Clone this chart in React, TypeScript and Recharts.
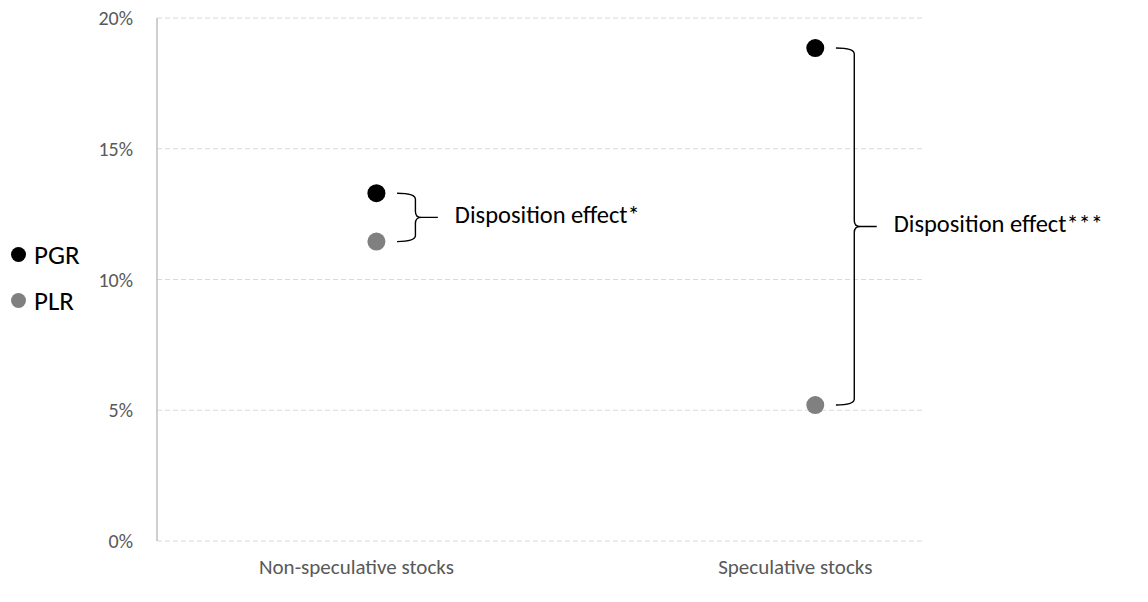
import React from "react";
import {
  ScatterChart,
  Scatter,
  XAxis,
  YAxis,
  CartesianGrid,
  ReferenceArea,
} from "recharts";

const categories = ["Non-speculative stocks", "Speculative stocks"];
const categoryX = [1, 3];
const pgrValues = [13.3, 18.85];
const plrValues = [11.45, 5.2];
const effectLabels = ["Disposition effect*", "Disposition effect***"];
const yTicks = [0, 5, 10, 15, 20];

const FONT = "Carlito, Lato, 'Open Sans', sans-serif";
const AXIS_TEXT = "#595959";
const PGR_COLOR = "#000000";
const PLR_COLOR = "#808080";

const series = [
  { name: "PGR", color: PGR_COLOR, values: pgrValues },
  { name: "PLR", color: PLR_COLOR, values: plrValues },
];

const dotShape = (color: string) => (props: any) =>
  <circle cx={props.cx} cy={props.cy} r={9} fill={color} />;

function CategoryTick({ x, y, payload }: any) {
  const i = categoryX.indexOf(payload.value);
  return (
    <text
      x={x - 20}
      y={y}
      dy={26}
      textAnchor="middle"
      dominantBaseline="middle"
      fill={AXIS_TEXT}
      fontSize={21}
      fontFamily={FONT}
    >
      {categories[i]}
    </text>
  );
}

function braceShape(label: string) {
  return (props: any) => {
    const { x, y, width, height } = props;
    const bottom = y + height;
    const mid = y + height / 2;
    const sx = x + width * 0.45;
    const r = 6;
    const d = [
      `M ${x} ${y}`,
      `Q ${sx} ${y} ${sx} ${y + r}`,
      `L ${sx} ${mid - r}`,
      `Q ${sx} ${mid} ${sx + r} ${mid}`,
      `L ${x + width} ${mid}`,
      `M ${sx + r} ${mid}`,
      `Q ${sx} ${mid} ${sx} ${mid + r}`,
      `L ${sx} ${bottom - r}`,
      `Q ${sx} ${bottom} ${x} ${bottom}`,
    ].join(" ");
    return (
      <g>
        <path d={d} fill="none" stroke="#000" strokeWidth={1.4} />
        <text
          x={x + width + 17}
          y={mid}
          dominantBaseline="middle"
          fontSize={24.5}
          fontFamily={FONT}
          fill="#000"
        >
          {label}
        </text>
      </g>
    );
  };
}

export default function App() {
  return (
    <div style={{ position: "absolute", left: 0, top: 0, width: 1148, height: 602, background: "#fff" }}>
      <ScatterChart
        width={1148}
        height={602}
        margin={{ top: 18, right: 223, bottom: 21, left: 97 }}
      >
        <CartesianGrid
          vertical={false}
          stroke="#d9d9d9"
          strokeDasharray="5 3"
        />
        <XAxis
          type="number"
          dataKey="x"
          domain={[0, 3.5]}
          ticks={categoryX}
          tick={<CategoryTick />}
          tickLine={false}
          axisLine={false}
          tickSize={0}
          height={40}
          allowDataOverflow
        />
        <YAxis
          type="number"
          dataKey="y"
          domain={[0, 20]}
          ticks={yTicks}
          tickFormatter={(v: number) => `${v}%`}
          tick={{ fill: AXIS_TEXT, fontSize: 20, fontFamily: FONT }}
          tickLine={false}
          tickSize={0}
          tickMargin={24}
          axisLine={{ stroke: "#bfbfbf", strokeWidth: 1.5 }}
          width={60}
        />
        {categoryX.map((cx, i) => (
          <ReferenceArea
            key={cx}
            x1={cx + 0.094}
            x2={cx + 0.28}
            y1={plrValues[i]}
            y2={pgrValues[i]}
            shape={braceShape(effectLabels[i])}
          />
        ))}
        {series.map((s) => (
          <Scatter
            key={s.name}
            name={s.name}
            data={categoryX.map((x, i) => ({ x, y: s.values[i] }))}
            shape={dotShape(s.color)}
            isAnimationActive={false}
          />
        ))}
      </ScatterChart>
      <div style={{ position: "absolute", left: 11, top: 231, fontFamily: FONT, fontSize: 27, color: "#000" }}>
        {series.map((s) => (
          <div key={s.name} style={{ display: "flex", alignItems: "center", height: 46 }}>
            <span
              style={{
                display: "inline-block",
                width: 15,
                height: 15,
                borderRadius: 8,
                background: s.color,
                marginRight: 8,
              }}
            />
            {s.name}
          </div>
        ))}
      </div>
    </div>
  );
}
